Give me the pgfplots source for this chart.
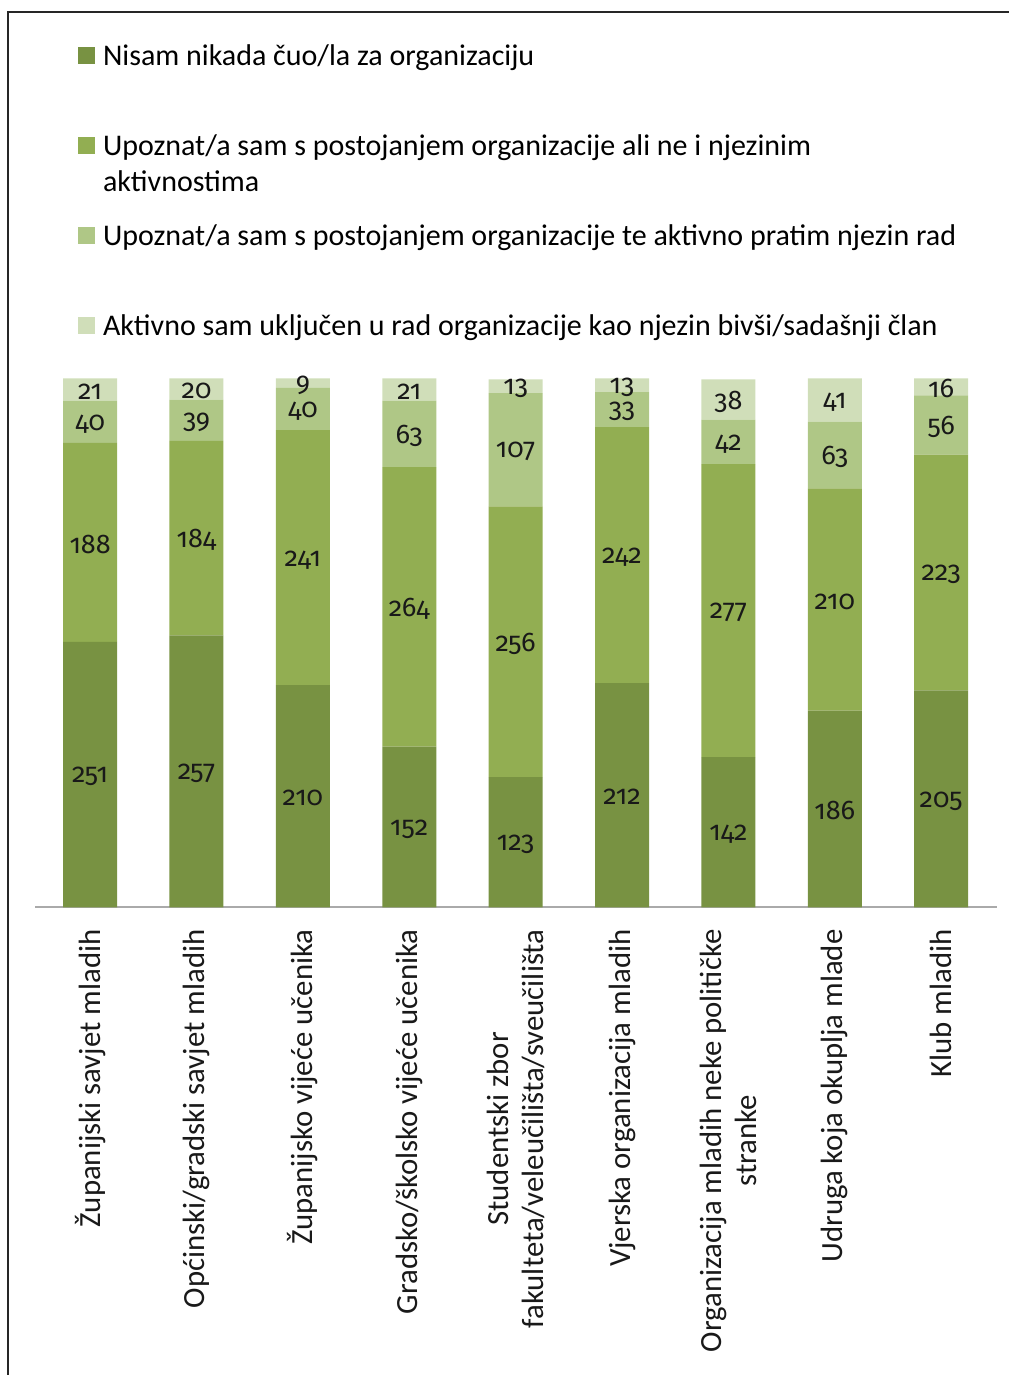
\documentclass[border=0pt]{standalone}
\usepackage{pgfplots}
\pgfplotsset{compat=1.18}
\usepackage{fontspec}
\setmainfont{Carlito}
\newfontfamily\numfont{Fira Sans}[Numbers=OldStyle]
\definecolor{c1}{RGB}{120,146,66}
\definecolor{c2}{RGB}{146,174,82}
\definecolor{c3}{RGB}{175,199,134}
\definecolor{c4}{RGB}{208,222,185}
\definecolor{axisgray}{RGB}{170,170,170}
\begin{document}
\begin{tikzpicture}[x=0.5pt,y=0.5pt]
\useasboundingbox (0,0) rectangle (1009,1375);
\draw[line width=1pt, black!85] (8,0) -- (8,1363) -- (1009,1363);
\begin{axis}[
  at={(33,442)}, anchor=south west,
  scale only axis, width=481pt, height=264.5pt,
  ybar stacked, bar width=27pt,
  xmin=-0.517, xmax=8.526, ymin=0, ymax=500,
  axis x line*=bottom, axis y line=none,
  axis line style={axisgray, line width=1pt},
  ytick=\empty,
  xtick={0,...,8},
  xtick style={draw=none},
  xticklabels={Županijski savjet mladih,Općinski/gradski savjet mladih,Županijsko vijeće učenika,Gradsko/školsko vijeće učenika,{Studentski zbor\\fakulteta/veleučilišta/sveučilišta},Vjerska organizacija mladih,{Organizacija mladih neke političke\\stranke},Udruga koja okuplja mlade,Klub mladih},
  xticklabel shift=7.5pt,
  xticklabel style={rotate=90, anchor=east, align=center, font=\fontsize{15.4}{17.5}\selectfont, text=black!90},
  /pgf/number format/assume math mode=true,
  nodes near coords={\numfont\pgfmathprintnumber[assume math mode=true]{\pgfplotspointmeta}},
  every node near coord/.append style={anchor=center, yshift=-1pt, inner sep=1pt,
    font=\numfont\fontsize{13.5}{15}\selectfont, text=black!90},
  legend image code/.code={\fill[#1] (0pt,0.5pt) rectangle (8.5pt,9pt);},
  legend style={at={(0.0447,1.6295)}, anchor=north west, draw=none, fill=none,
    inner sep=0pt, outer sep=0pt, row sep=0pt, column sep=4pt,
    cells={anchor=base west},
    nodes={inner sep=0pt, text height=10pt, text depth=35pt},
    font=\fontsize{15}{18}\selectfont},
]
\addplot[fill=c1, draw=none] coordinates {(0,251) (1,257) (2,210) (3,152) (4,123) (5,212) (6,142) (7,186) (8,205)};
\addplot[fill=c2, draw=none] coordinates {(0,188) (1,184) (2,241) (3,264) (4,256) (5,242) (6,277) (7,210) (8,223)};
\addplot[fill=c3, draw=none] coordinates {(0,40) (1,39) (2,40) (3,63) (4,107) (5,33) (6,42) (7,63) (8,56)};
\addplot[fill=c4, draw=none] coordinates {(0,21) (1,20) (2,9) (3,21) (4,13) (5,13) (6,38) (7,41) (8,16)};
\addlegendentry{Nisam nikada čuo/la za organizaciju}
\addlegendentry{\begin{tabular}[t]{@{}l@{}}Upoznat/a sam s postojanjem organizacije ali ne i njezinim\\aktivnostima\end{tabular}}
\addlegendentry{Upoznat/a sam s postojanjem organizacije te aktivno pratim njezin rad}
\addlegendentry{Aktivno sam uključen u rad organizacije kao njezin bivši/sadašnji član}
\end{axis}
\end{tikzpicture}
\end{document}
